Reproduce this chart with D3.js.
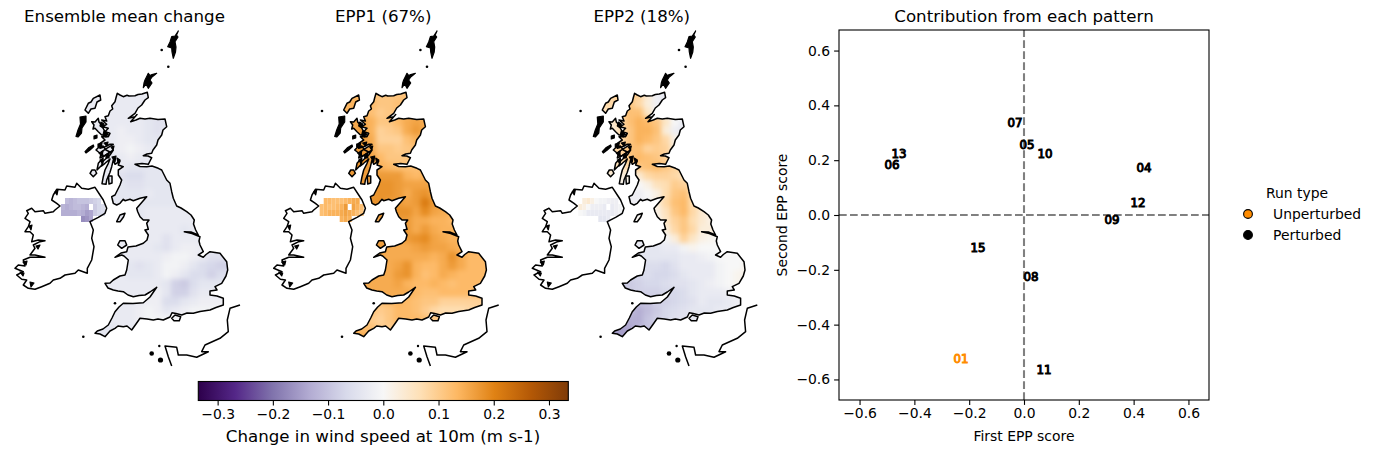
<!DOCTYPE html>
<html><head><meta charset="utf-8">
<script src="https://cdn.jsdelivr.net/npm/d3@7"></script>
<style>html,body{margin:0;padding:0;background:#fff}svg{display:block}text{font-family:"DejaVu Sans",sans-serif;fill:#000}</style>
</head><body><div id="chart"></div>
<script>
// ---------- colour scale stops (PuOr reversed) ----------
const cmapStops = ["#2d004b","#542788","#8073ac","#b2abd2","#d8daeb","#f7f7f7","#fee0b6","#fdb863","#e08214","#b35806","#7f3b08"];
const vLimit = 0.335;
const colorbarTicks = [-0.3,-0.2,-0.1,0,0.1,0.2,0.3];

// ---------- map outlines, in map units ----------
const coastGB = [[117.3,93.3],[120,95],[123.3,96.7],[127,95.2],[129,96],[135,95.7],[138,94.5],[142,94],[147.3,92.3],[148.3,97.7],[145,100],[141.7,105],[138,108],[135,113.3],[128.3,118.3],[135,116.7],[137,114.5],[130.7,121.7],[136,120],[140,118.3],[145,119],[150,118.3],[158,119.5],[165,119],[166.7,126.7],[163,130],[161.7,135],[158,140],[156.7,145],[153,150],[151.7,153.3],[147,154],[143.3,155.7],[148,156],[151.7,157.7],[150,161],[148.3,164.3],[142,163.5],[135,164.3],[140,166.5],[146.7,166.7],[152,166],[158.3,168.3],[161.7,170],[166.7,180],[170,183.3],[171.7,191.7],[173.3,198.3],[176.7,206],[181,208],[186.7,211.7],[191,215],[194.3,220],[193.5,224],[195.7,230],[198.3,235],[191,232],[184.3,231.7],[192,233.5],[200,236.7],[199,241],[200,245],[203.3,251.7],[198.3,255],[203.3,257.3],[206,254.5],[210,251.7],[220,253.3],[226.7,261.7],[227.7,270],[226,276],[221.7,283.3],[215,286.7],[217,290],[210,291],[210,295],[217,296],[223.3,298.3],[223.3,305],[216,307.5],[210,310],[200,311.5],[193.3,313.3],[187,313],[181.7,315],[176,313.5],[172,312.7],[170,317],[163.3,320],[158,319],[153.3,320],[147,319],[140,318.3],[136,324],[131.7,330],[127,326],[123.3,326.7],[118,326],[115,328.3],[110,331],[105,336.7],[100,334],[95,333.3],[97.3,331],[103,329],[108.3,325],[112,318],[115,311.7],[119,307],[123.3,303.3],[133,303.5],[143.3,302.7],[150,297],[156.7,287.3],[150,292],[145,295],[139,295.5],[133.3,296.7],[128,295],[123.3,291.7],[118,291],[113.3,290],[108,288],[105,283.3],[110,283],[113.3,280],[120,276],[125,275],[126.7,270],[128.3,260],[124,256],[121.7,255],[115,257.3],[121,253],[126.7,251.7],[128,247],[136,246],[143.3,243.3],[147,240],[148.3,235],[145,230],[148.3,229.3],[146.7,223.3],[149,220],[143.3,220],[140,216.7],[137.7,211.7],[136.7,208.3],[146.7,196.7],[140,198.3],[133.3,200.7],[130,199.3],[125,200.7],[123.3,199.3],[120,203.3],[116.7,205],[113.3,203.3],[111.7,196.7],[115,195],[120,185],[121.7,180],[118.3,175],[118.3,170],[123.3,166.7],[118.3,165],[120,161],[115,164.3],[113.3,160],[111.7,166.7],[110,172.3],[106.7,180],[106,184.3],[102,183.7],[103.3,176.7],[105,170],[108.3,163.3],[110,159],[105,163.3],[101.7,166],[103.3,161],[110,155],[113.3,150],[108.3,153.3],[103.3,156.7],[101.7,151.7],[106.7,148.3],[113.3,144.3],[110,144.3],[105,146.7],[100,148.3],[100,143.3],[105,140],[101.7,136.7],[108.3,136.7],[110,133.3],[105,131.7],[108.3,128.3],[102.7,126.7],[106.7,124.3],[101.7,120],[106.7,121],[105,116.7],[108.3,115.7],[110,111],[112.7,109],[111.7,105.7],[115,101.7],[116,97.7]];
const coastIslands = [
 [[100,95],[100.7,100],[97,102],[95,108.3],[91,109],[88.3,113.3],[85,110],[88.3,103.3],[91,102],[93.3,98.3]],
 [[91.7,121.7],[95,122],[98.3,118.3],[99,122],[101.7,125],[104,130],[108.3,135],[101.7,135],[98.3,131.7],[95,128.3],[93,129],[94,125]],
 [[96,150],[99,147],[103,146],[106,150],[110,152],[104,156],[100,158],[101,154]],
 [[90,173.3],[92,170],[95,170],[96.7,173.3],[93.3,176.7]],
 [[98.3,163.3],[103,158],[102,165],[97,170]],
 [[108.5,176],[112,176],[112,183],[109,184]],
 [[125,213.3],[123.5,217],[120,221.7],[116.7,221.7],[120,215]],
 [[117.7,245],[120,240.7],[125,240.7],[126.7,245],[121.7,248.3]],
 [[171.7,318.3],[175,315],[180.7,316.7],[179.3,320.7],[174,320.7]]
];
// small islands and inlets that read as solid marks at this scale
const coastBlobs = [
 [[178.3,31],[176.5,35],[178,37],[175,41.7],[176,47],[175.5,52],[173.3,58.3],[172,52],[171.7,48],[167.7,46.7],[170,42],[171.7,36.7],[175,36]],
 [[145,80],[147,76],[148.3,73.3],[150,75.5],[152,74.5],[156.7,73.3],[152,77],[150,80],[152,83],[148.3,88.3],[146,84],[143.3,87.7],[144,83]],
 [[80,117],[86,116],[86,122],[82,128],[81.5,133],[78,137],[76,136.5],[78,130],[80.5,124]],
 [[85,151.7],[89,147.5],[93.3,145],[93.8,146.5],[90,150],[86,153]],
 [[94,136],[97,135],[97,138],[94,139]],
 [[101,122],[104,124],[103,128],[100,126]],[[104,131],[107,133],[106,137],[103,135]],
 [[98,144],[102,143],[101,147],[98,147]],[[99,153],[103,151],[102,156]],
 [[104,143],[108,142],[107,146]],[[106,155],[109,153],[109,158],[106,158]],
 [[100,160],[103,159],[102,163]],[[111,147],[114,146],[113,150]],
 [[112,157],[116,156],[115,162]],[[117,158],[120,160],[118,163]],
 [[23,262],[27,261],[26,265]],[[20,272],[24,273],[23,276]],[[30,282],[34,283],[31,287]],
 [[29,226],[32,225],[31,230]],[[36,246],[40,245],[38,249]],[[55,192],[58,190],[57,195]]
];
const coastIreland = [[78.3,270],[75,273.3],[65,275],[60,278.3],[53.3,280],[50,283.3],[41.7,286.7],[35,289.3],[28.3,288.3],[23.3,285],[26.7,280],[21.7,279.3],[16.7,275],[23.3,271.7],[15,268.3],[18.3,265],[25,266],[23.3,260],[30,257.3],[45,257.3],[35,255],[30,255],[35,248.3],[33.3,245],[40,241.7],[45,240.7],[38.3,240],[31.7,241.7],[33.3,235],[30,231.7],[25,231.7],[28.3,226.7],[30,221.7],[25,218.3],[28.3,213.3],[26.7,210.7],[31.7,208.3],[35,211.7],[43.3,210.7],[45,213.3],[53.3,211.7],[55,210],[60,206],[56.7,203.3],[51.7,200],[53.3,195],[56.7,189.3],[65,190],[66.7,186],[75,187.3],[76.7,183.3],[81.7,188.3],[88.3,189.3],[95,187.3],[100,195],[103.3,200],[106.7,208.3],[105,213.3],[98.3,217.3],[90,221.7],[93.3,230],[91.7,238.3],[94,246.7],[91.7,260],[87.3,268.3],[87.3,273.3]];
const coastFrance = [[240,305],[230,308.3],[227.3,320],[228.3,331.7],[220,338.3],[205,345],[201.7,351.7],[208.3,351.7],[196.7,357.3],[186.7,355],[178.3,355],[176.7,347.3],[165,346],[168.3,356.7],[171.7,366]];
const coastDots = [[63.3,111,1.3],[168.3,66.7,1.3],[161.7,50,1.3],[83.3,336.7,1.3],[115,303.3,1.3],[159.3,346,1.2],[151.7,353.5,2.3],[160.5,360,2.6]];

// ---------- field values: hundredths of m/s. Each row: [first column, values...] ----------
const meanField = [
[1,-3,-3,-3,-3,-3,-3,-3],
[0,-3,-3,-3,-3,-3,-3,-3,-3],
[0,-3,-3,-3,-3,-3,-3,-3],
[0,-3,-3,-3,-3,-3,-3,-3,-4,-5,-5],
[0,-3,-3,-3,-3,-2,-3,-3,-4,-5,-4],
[2,-3,-3,-2,-2,-3,-4,-4,-4],
[1,-3,-3,-3,-2,-1,-2,-3,-4],
[1,-3,-3,-3,-3,-2,-3,-3,-3],
[1,-3,-3,-3,-3,-4,-4,-4,-4,-4],
[2,-3,-4,-5,-6,-6,-4,-4,-4],
[2,-4,-4,-4,-5,-5,-4,-4,-4,-4],
[3,-4,-4,-4,-4,-3,-4,-4,-4],
[3,-4,-4,-4,-4,-4,-4,-4,-4],
[5,-4,-4,-3,-3,-3,-3,-3,-3],
[6,-4,-3,-3,-3,-3,-3,-3],
[6,-3,-3,-3,-3,-3,-4,-3,-3],
[3,-3,-3,-3,-3,-3,-3,-5,-3,-3,-3,-3],
[3,-3,-3,-3,-3,-3,-4,-5,-3,-2,-2,-3,-3],
[3,-3,-3,-3,-3,-3,-3,-2,-1,-1,-2,-3,-5,-5,-5],
[4,-3,-4,-5,-4,-3,-1,-1,-2,-4,-6,-7,-8,-8],
[3,-3,-3,-4,-4,-4,-3,-1,-2,-4,-6,-6,-8,-6,-5],
[2,-3,-3,-3,-3,-3,-3,-3,-4,-8,-9,-6,-4,-4,-4],
[3,-3,-3,-3,-3,-3,-2,-4,-8,-8,-5,-3,-3,-3],
[3,-3,-3,-3,-3,-2,-2,-6,-6,-4,-3,-2,-2,-2,-1],
[3,-3,-3,-3,-2,-1,-2,-4,-3,-2,-1,-1,-1,0],
[2,-3,-3,-3,-3,-2,-1,-1,-1,-1,-1],
[1,-4,-4,-4,-3,-3,-3],
[1,-4,-4,-4]];
const epp1Field = [
[1,13,13,12,11,11,11,12],
[0,13,14,14,13,11,11,12,12],
[0,14,14,14,12,10,11,12],
[0,15,15,16,14,11,11,13,15,16,15],
[0,15,15,17,14,9,10,11,15,17,15],
[2,17,15,9,9,9,12,14,13],
[1,17,17,15,11,11,10,11,12],
[1,18,18,16,13,11,11,11,11],
[1,18,18,16,14,13,12,12,12,12],
[2,17,16,17,17,17,14,13,14],
[2,17,17,18,18,17,16,16,16,15],
[3,17,18,18,17,15,17,18,15],
[3,18,18,17,17,16,17,21,17],
[5,17,18,18,16,19,16,15,14],
[6,17,17,15,15,14,14,13],
[6,17,17,15,17,15,14,14,13],
[3,18,16,15,15,17,18,19,16,15,14,14],
[3,17,17,15,15,15,16,17,16,16,15,14,14],
[3,16,15,15,15,15,15,15,14,15,18,15,13,13,13],
[4,15,15,16,18,14,13,13,15,17,15,13,13,13],
[3,15,15,15,17,18,14,12,13,15,14,13,13,13,13],
[2,15,15,15,15,16,14,13,13,14,13,12,13,13,13],
[3,15,15,15,15,15,13,12,12,13,13,13,13,13],
[3,13,12,13,14,13,12,11,11,9,9,9,9,9,9],
[3,12,10,11,13,13,12,10,8,7,7,7,8,9],
[2,13,10,9,11,13,13,13,12,11,11],
[1,14,13,12,10,10,11],
[1,15,15,15]];
const epp2Field = [
[1,8,10,12,9,4,-2,-4],
[0,7,8,9,11,8,3,-2,-3],
[0,6,7,9,12,12,5,-1],
[0,4,4,8,12,14,13,11,5,0,-3],
[0,3,3,7,11,14,14,12,3,-2,-4],
[2,8,11,14,13,11,8,2,-1],
[1,8,9,12,12,9,10,9,3],
[1,7,8,11,13,12,11,9,6],
[1,6,6,8,11,12,13,11,9,7],
[2,3,3,4,8,9,9,8,6],
[2,1,0,0,2,6,7,10,9,7],
[3,-2,-2,0,2,7,11,12,7],
[3,-2,-2,-1,3,8,12,13,7],
[5,0,2,6,11,13,8,4,2],
[6,1,5,9,11,7,4,2],
[6,-1,3,8,11,8,3,3,2],
[3,-3,-3,-3,-2,-1,3,9,5,2,1,0],
[3,-3,-3,-4,-4,-3,-3,-1,1,0,0,0,0],
[3,-4,-4,-4,-4,-4,-4,-3,-3,-2,-1,0,0,0,0],
[4,-5,-6,-6,-7,-5,-3,-3,-3,-3,-1,0,0,1],
[3,-7,-7,-6,-7,-7,-6,-4,-3,-3,-3,-1,0,1,2],
[2,-9,-9,-8,-7,-7,-6,-5,-5,-4,-3,-2,-1,0,1],
[3,-9,-8,-8,-8,-7,-7,-6,-4,-3,-3,-3,-2,-1],
[3,-9,-10,-10,-8,-8,-7,-6,-5,-3,-4,-4,-3,-2,-2],
[3,-11,-13,-11,-9,-7,-6,-5,-4,-4,-4,-3,-3,-2],
[2,-12,-13,-13,-10,-8,-7,-5,-5,-4,-4],
[1,-15,-15,-14,-12,-10,-9],
[1,-15,-15,-15]];
const meanNI = [
[1,-11,-12,-11,-10,-10,-10,-9,-8,-7],
[0,-12,-13,-12,-11,-11,-12,-13,null,-9,-7,-6],
[0,-13,-13,-13,-13,-12,-13,-15,-14,-9,-7,-6],
[5,-17,-16,-14]];
const epp1NI = [
[1,13,13,12,12,12,13,14,15,15],
[0,12,13,12,12,13,14,17,null,16,14,12],
[0,12,13,14,14,14,15,16,15,14,12,11],
[5,14,15,14]];
const epp2NI = [
[1,3,4,2,0,-1,-1,-2,-2,-2],
[0,3,2,0,-2,-2,-2,-3,null,-3,-2,-1],
[0,0,-1,-3,-3,-3,-3,-3,-3,-3,-2,-1],
[5,-4,-4,-3]];
const panelTitles = ["Ensemble mean change","EPP1 (67%)","EPP2 (18%)"];
const panelFields = [meanField,epp1Field,epp2Field];
const panelNI = [meanNI,epp1NI,epp2NI];

// ---------- EPP scatter ----------
const runLabels = ["01","04","05","06","07","08","09","10","11","12","13","15"];
const firstScore = [-0.230,0.438,0.011,-0.482,-0.033,0.026,0.321,0.077,0.073,0.416,-0.456,-0.168];
const secondScore = [-0.522,0.172,0.259,0.186,0.336,-0.223,-0.015,0.223,-0.562,0.047,0.223,-0.117];
const scoreTicks = [-0.6,-0.4,-0.2,0,0.2,0.4,0.6];
const legendNames = ["Unperturbed","Perturbed"];
const legendColors = ["#ff8c00","#000000"];

// ---------- drawing ----------
const W=1376,H=454;
const svg=d3.select("#chart").append("svg").attr("width",W).attr("height",H).attr("viewBox",`0 0 ${W} ${H}`);
const color=d3.scaleLinear().domain(d3.range(11).map(i=>-vLimit+i*vLimit/5)).range(cmapStops).clamp(true);
const defs=svg.append("defs");
defs.append("filter").attr("id","soft").attr("x","-10%").attr("y","-10%").attr("width","120%").attr("height","120%")
  .attr("color-interpolation-filters","sRGB").append("feGaussianBlur").attr("stdDeviation",2.6);

const panelShift=[0,258.7,517.3];
const gridX0=81,gridY0=90,gridStep=9,niX0=61,niY0=198,niW=4,niH=6;
panelTitles.forEach((title,p)=>{
  const x=d3.scaleLinear().domain([0,250]).range([panelShift[p],panelShift[p]+250]);
  const y=d3.scaleLinear().domain([0,454]).range([0,454]);
  const line=d3.line().x(d=>x(d[0])).y(d=>y(d[1]));
  const g=svg.append("g");
  const clipId="gb"+p;
  const clip=defs.append("clipPath").attr("id",clipId);
  clip.append("path").attr("d",[coastGB,...coastIslands].map(r=>line(r)+"Z").join(""));
  const cells=[];
  panelFields[p].forEach((row,j)=>row.slice(1).forEach((v,k)=>cells.push({c:row[0]+k,j,v:v/100})));
  const pad=[];
  panelFields[p].forEach((row,j)=>{const n=row.length-1;
    [-2,-1].forEach(o=>pad.push({c:row[0]+o,j,v:row[1]/100}));
    [0,1].forEach(o=>pad.push({c:row[0]+n+o,j,v:row[n]/100}));
  });
  const heat=g.append("g").attr("clip-path",`url(#${clipId})`).append("g").attr("filter","url(#soft)");
  heat.selectAll("rect").data(pad.concat(cells)).join("rect")
    .attr("x",d=>x(gridX0+d.c*gridStep)).attr("y",d=>y(gridY0+d.j*gridStep))
    .attr("width",x(gridX0+gridStep)-x(gridX0)+0.5).attr("height",y(gridStep)-y(0)+0.5)
    .attr("fill",d=>color(d.v));
  const ni=[];
  panelNI[p].forEach((row,j)=>row.slice(1).forEach((v,k)=>{if(v!==null)ni.push({c:row[0]+k,j,v:v/100})}));
  g.append("g").selectAll("rect").data(ni).join("rect")
    .attr("x",d=>x(niX0+d.c*niW)).attr("y",d=>y(niY0+d.j*niH))
    .attr("width",x(niX0+niW)-x(niX0)).attr("height",y(niH)-y(0)).attr("fill",d=>color(d.v));
  const outline=g.append("g").attr("fill","none").attr("stroke","#000").attr("stroke-width",1.5).attr("stroke-linejoin","round");
  [coastGB,...coastIslands,coastIreland].forEach(r=>outline.append("path").attr("d",line(r)+"Z"));
  outline.append("path").attr("d",line(coastFrance));
  g.append("g").attr("fill","#000").attr("stroke","#000").attr("stroke-width",1.2).attr("stroke-linejoin","round")
    .selectAll("path").data(coastBlobs).join("path").attr("d",d=>line(d)+"Z");
  g.append("g").selectAll("circle").data(coastDots).join("circle")
    .attr("cx",d=>x(d[0])).attr("cy",d=>y(d[1])).attr("r",d=>d[2]).attr("fill","#000");
  g.append("text").attr("x",x(124.5)).attr("y",22).attr("text-anchor","middle").attr("font-size",16.67).text(title);
});

// colour bar
const cbX=d3.scaleLinear().domain([-vLimit,vLimit]).range([198.3,568.3]);
const cbTop=381.5,cbH=19;
const grad=defs.append("linearGradient").attr("id","cbGrad");
cmapStops.forEach((c,i)=>grad.append("stop").attr("offset",i/10).attr("stop-color",c));
svg.append("rect").attr("x",cbX.range()[0]).attr("y",cbTop).attr("width",cbX.range()[1]-cbX.range()[0]).attr("height",cbH)
  .attr("fill","url(#cbGrad)").attr("stroke","#000").attr("stroke-width",1.1);
const cbAxis=svg.append("g").attr("transform",`translate(0,${cbTop+cbH})`)
  .call(d3.axisBottom(cbX).tickValues(colorbarTicks).tickFormat(d3.format(".1f")).tickSize(4.9).tickPadding(3.5));
cbAxis.select(".domain").remove();
cbAxis.selectAll("text").attr("font-size",13.9).attr("font-family",'"DejaVu Sans"');
cbAxis.selectAll("line").attr("stroke-width",1.1);
svg.append("text").attr("x",383).attr("y",442).attr("text-anchor","middle").attr("font-size",16.67).text("Change in wind speed at 10m (m s-1)");

// scatter
const sx=d3.scaleLinear().domain([-0.675,0.675]).range([839,1209]);
const sy=d3.scaleLinear().domain([-0.675,0.675]).range([400,30]);
const axB=svg.append("g").attr("transform","translate(0,400)").call(d3.axisBottom(sx).tickValues(scoreTicks).tickFormat(d3.format(".1f")).tickSize(4.9).tickPadding(3.5));
const axL=svg.append("g").attr("transform","translate(839,0)").call(d3.axisLeft(sy).tickValues(scoreTicks).tickFormat(d3.format(".1f")).tickSize(4.9).tickPadding(4));
[axB,axL].forEach(a=>{a.select(".domain").remove();a.selectAll("text").attr("font-size",13.9).attr("font-family",'"DejaVu Sans"');a.selectAll("line").attr("stroke-width",1.1)});
const dash=svg.append("g").attr("stroke","#808080").attr("stroke-width",2.08).attr("stroke-dasharray","7.7,3.3");
dash.append("line").attr("x1",sx(0)).attr("x2",sx(0)).attr("y1",sy.range()[0]).attr("y2",sy.range()[1]);
dash.append("line").attr("y1",sy(0)).attr("y2",sy(0)).attr("x1",sx.range()[0]).attr("x2",sx.range()[1]);
svg.append("rect").attr("x",839).attr("y",30).attr("width",370).attr("height",370).attr("fill","none").attr("stroke","#000").attr("stroke-width",1.1);
svg.append("g").selectAll("text").data(runLabels).join("text")
  .attr("x",(d,i)=>sx(firstScore[i])).attr("y",(d,i)=>sy(secondScore[i])+4.5).attr("text-anchor","middle")
  .attr("font-size",11.8)
  .attr("stroke",d=>d==="01"?"#ff8c00":"#000").attr("stroke-width",1)
  .style("fill",d=>d==="01"?"#ff8c00":"#000").text(d=>d);
svg.append("text").attr("x",1024).attr("y",22).attr("text-anchor","middle").attr("font-size",16.67).text("Contribution from each pattern");
svg.append("text").attr("x",1024).attr("y",441).attr("text-anchor","middle").attr("font-size",13.9).text("First EPP score");
svg.append("text").attr("transform","translate(787,215) rotate(-90)").attr("text-anchor","middle").attr("font-size",13.9).text("Second EPP score");

// legend
svg.append("text").attr("x",1297).attr("y",198).attr("text-anchor","middle").attr("font-size",13.9).text("Run type");
legendNames.forEach((n,i)=>{
  const ly=214+21*i;
  svg.append("circle").attr("cx",1248).attr("cy",ly).attr("r",4.4).attr("fill",legendColors[i]).attr("stroke","#000").attr("stroke-width",1.1);
  svg.append("text").attr("x",1273).attr("y",ly+5).attr("font-size",13.9).text(n);
});
</script></body></html>
